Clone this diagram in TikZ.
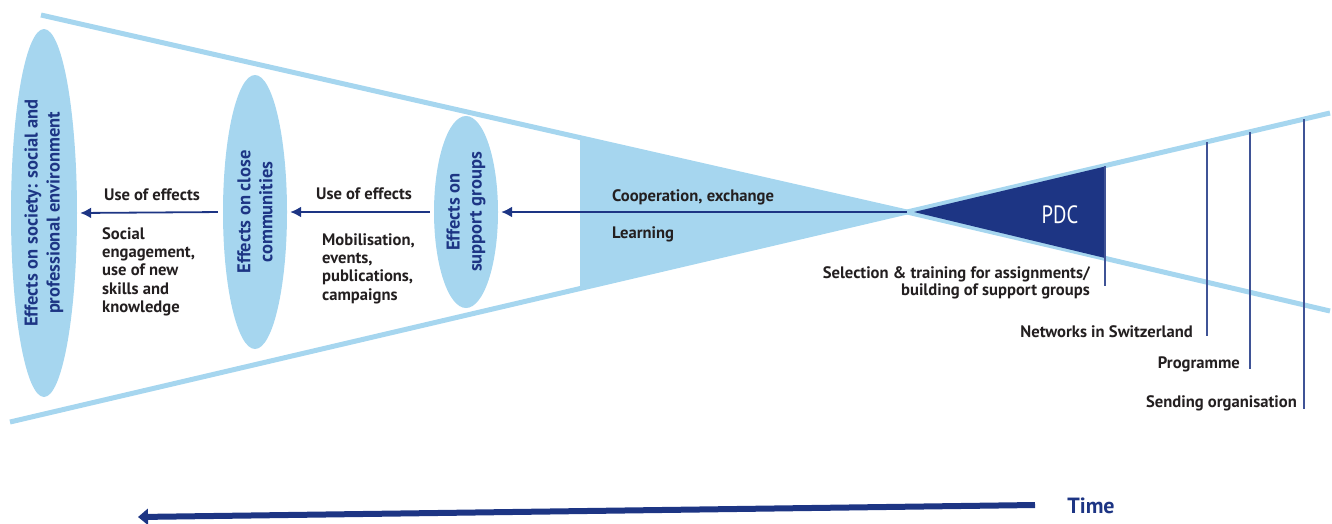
\documentclass[tikz,border=0pt]{standalone}
\usepackage{fontspec}
\setmainfont{PT Sans}
\usetikzlibrary{arrows.meta,shapes.geometric}
\definecolor{lb}{HTML}{A6D6EF}
\definecolor{db}{HTML}{1D3584}
\definecolor{txt}{HTML}{231F20}
\begin{document}
\begin{tikzpicture}[x=1pt,y=-1pt,
  lbl/.style={draw=lb, line width=5pt},
  ell/.style={ellipse, fill=lb, rotate=90, inner sep=0pt, align=center, text=db,
    font=\bfseries\fontsize{18.5}{22}\selectfont},
  arr/.style={draw=db, line width=1.8pt, -{Latex[length=11pt,width=11pt]}},
  lab/.style={font=\bfseries\fontsize{16.6}{18.4}\selectfont, text=txt, inner sep=0pt},
  vline/.style={draw=db!85!white, line width=2.2pt},
  timearrow/.style={draw=db, line width=6pt, -{Triangle[length=10pt,width=16pt]}}]
\useasboundingbox (0,0) rectangle (1332,523);
% cone lines
\coordinate (X) at (907,212);
\coordinate (tl) at (41,15);
\coordinate (bl) at (10,422);
\coordinate (tr) at (1330,113);
\coordinate (br) at (1330,311);
% light fill
\fill[lb] (580,139) -- (X) -- (580,287) -- cycle;
\draw[lbl] (tl) -- (X) -- (tr);
\draw[lbl] (bl) -- (X) -- (br);
% PDC triangle
\fill[db] (914,212) -- (1105,166.5) -- (1105,258) -- cycle;
\node[text=white, font=\fontsize{25}{25}\selectfont, inner sep=0pt, xscale=0.82, anchor=base] (pdc) at (1060,223) {PDC};
% ellipses
\node[ell, minimum width=368pt, minimum height=66pt] (e1) at (44,213)
  {Effects on society: social and\\professional environment};
\node[ell, minimum width=274pt, minimum height=64pt] (e2) at (255,212)
  {Effects on close\\communities};
\node[ell, minimum width=192pt, minimum height=64pt] (e3) at (466,212)
  {Effects on\\support groups};
% arrows
\draw[arr, shorten >=3pt] (X) -- (e3.south);
\draw[arr, shorten <=4pt, shorten >=3pt] (e3.north) -- (e2.south);
\draw[arr, shorten <=5pt, shorten >=3pt] (e2.north) -- (e1.south);
% labels
\node[lab, anchor=base] (u1) at (152,200) {Use of effects};
\node[lab, align=left, anchor=north west] (s1) at (102,227)
  {Social\\engagement,\\use of new\\skills and\\knowledge};
\node[lab, anchor=base] (u2) at (364,199) {Use of effects};
\node[lab, align=left, anchor=north west] (m1) at (322,233)
  {Mobilisation,\\events,\\publications,\\campaigns};
\node[lab, anchor=base west] (coop) at (612,201) {Cooperation, exchange};
\node[lab, anchor=base west] (learn) at (612,238) {Learning};
% vertical lines
\coordinate (v1t) at (1105,166); \coordinate (v1b) at (1105,286);
\coordinate (v2t) at (1207,142); \coordinate (v2b) at (1207,336);
\coordinate (v3t) at (1250,132); \coordinate (v3b) at (1250,369);
\coordinate (v4t) at (1304,119); \coordinate (v4b) at (1304,409);
\draw[vline] (v1t) -- (v1b);
\draw[vline] (v2t) -- (v2b);
\draw[vline] (v3t) -- (v3b);
\draw[vline] (v4t) -- (v4b);
\node[lab, align=right, anchor=north east, font=\bfseries\fontsize{16.6}{17}\selectfont] (sel) at (1090,266)
  {Selection \& training for assignments/\\building of support groups};
\node[lab, anchor=base east] (net) at (1193,337) {Networks in Switzerland};
\node[lab, anchor=base east] (prog) at (1240,368) {Programme};
\node[lab, anchor=base east] (send) at (1297,407) {Sending organisation};
% time
\node[font=\bfseries\fontsize{22}{22}\selectfont, text=db, inner sep=0pt] (time) at (1091,506) {Time};
\coordinate (t1) at (1035,505);
\coordinate (t2) at (138,517);
\draw[timearrow] (t1) -- (t2);
\end{tikzpicture}
\end{document}
